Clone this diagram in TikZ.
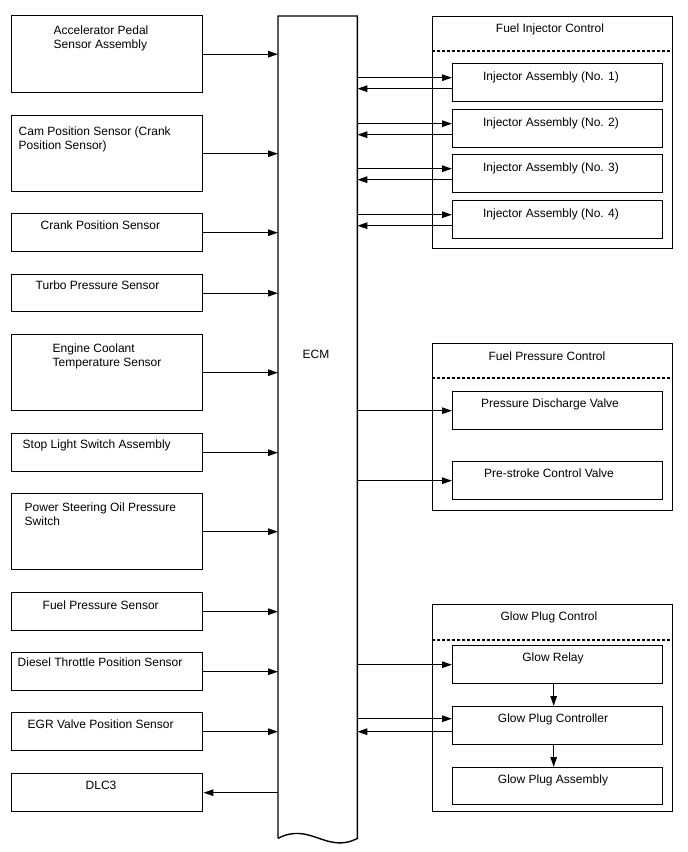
\documentclass[tikz,border=0pt]{standalone}
\usepackage{fontspec}
\setmainfont{Liberation Sans}
\usetikzlibrary{arrows.meta,positioning,calc}

\begin{document}
\begin{tikzpicture}[x=1pt, y=-1pt, line width=1.4pt,
    blk/.style={draw, rectangle, inner sep=0pt, anchor=north west, minimum width=191pt},
    grp/.style={draw, rectangle, inner sep=0pt, anchor=north west, minimum width=240pt},
    part/.style={draw, rectangle, inner sep=0pt, anchor=north west, minimum width=210pt, minimum height=38pt},
    lbl/.style={inner sep=0pt, anchor=north west, align=left, font=\fontsize{12}{14}\selectfont},
    clbl/.style={inner sep=0pt, anchor=north, align=center, font=\fontsize{12}{14}\selectfont},
    sig/.style={-{Triangle[length=10pt,width=6.5pt]}},
    sep/.style={dash pattern=on 3pt off 2pt, line width=1.1pt}]
      \useasboundingbox (0,0) rectangle (688,852);
      \node[inner sep=0pt, anchor=north west, minimum width=78pt, minimum height=821pt] (ecm) at (278,16) {};
      \draw (ecm.south west) -- (ecm.north west) -- (ecm.north east) -- (ecm.south east)
        .. controls +(-31,16) and +(32,-17) .. (ecm.south west);
      \node[clbl, anchor=center] (ecmtxt) at (316,354) {ECM};
      \node[blk, minimum height=77pt] (apps) at (11,15) {};
      \node[lbl] (appstxt) at (53,25) {Accelerator Pedal\\Sensor Assembly};
      \node[blk, minimum height=76pt] (cmp) at (11,115) {};
      \node[lbl] (cmptxt) at (18,126) {Cam Position Sensor (Crank\\Position Sensor)};
      \node[blk, minimum height=38pt] (ckp) at (11,213) {};
      \node[lbl] (ckptxt) at (40,220) {Crank Position Sensor};
      \node[blk, minimum height=37pt] (tbp) at (11,274) {};
      \node[lbl] (tbptxt) at (35,280) {Turbo Pressure Sensor};
      \node[blk, minimum height=76pt] (ect) at (11,334) {};
      \node[lbl] (ecttxt) at (52,343) {Engine Coolant\\Temperature Sensor};
      \node[blk, minimum height=38pt] (stp) at (11,433) {};
      \node[lbl] (stptxt) at (22,439) {Stop Light Switch Assembly};
      \node[blk, minimum height=76pt] (psw) at (11,493) {};
      \node[lbl] (pswtxt) at (24,502) {Power Steering Oil Pressure\\Switch};
      \node[blk, minimum height=38pt] (fps) at (11,592) {};
      \node[lbl] (fpstxt) at (42,600) {Fuel Pressure Sensor};
      \node[blk, minimum height=38pt] (dtp) at (11,652) {};
      \node[lbl] (dtptxt) at (17,657) {Diesel Throttle Position Sensor};
      \node[blk, minimum height=38pt] (egr) at (11,712) {};
      \node[lbl] (egrtxt) at (27,719) {EGR Valve Position Sensor};
      \node[blk, minimum height=38pt] (dlc) at (11,773) {};
      \node[lbl] (dlctxt) at (85,780) {DLC3};
      \draw[sig] (apps.east) -- (apps.east -| ecm.west);
      \draw[sig] (cmp.east) -- (cmp.east -| ecm.west);
      \draw[sig] (ckp.east) -- (ckp.east -| ecm.west);
      \draw[sig] (tbp.east) -- (tbp.east -| ecm.west);
      \draw[sig] (ect.east) -- (ect.east -| ecm.west);
      \draw[sig] (stp.east) -- (stp.east -| ecm.west);
      \draw[sig] (psw.east) -- (psw.east -| ecm.west);
      \draw[sig] (fps.east) -- (fps.east -| ecm.west);
      \draw[sig] (dtp.east) -- (dtp.east -| ecm.west);
      \draw[sig] (egr.east) -- (egr.east -| ecm.west);
      \draw[sig] (dlc.east -| ecm.west) -- (dlc.east);
      \node[grp, minimum height=232pt] (fic) at (432,16) {};
      \node[clbl] (fictxt) at (550,23) {Fuel Injector Control};
      \draw[sep] ([yshift=-35pt]fic.north west) -- ([yshift=-35pt]fic.north east);
      \node[part] (inj1) at (452,63) {};
      \node[clbl] (inj1txt) at (551,71) {Injector Assembly (No. 1)};
      \node[part] (inj2) at (452,109) {};
      \node[clbl] (inj2txt) at (551,117) {Injector Assembly (No. 2)};
      \node[part] (inj3) at (452,154) {};
      \node[clbl] (inj3txt) at (551,162) {Injector Assembly (No. 3)};
      \node[part] (inj4) at (452,200) {};
      \node[clbl] (inj4txt) at (551,208) {Injector Assembly (No. 4)};
      \draw[sig] ([yshift=5pt]inj1.west -| ecm.east) -- ([yshift=5pt]inj1.west);
      \draw[sig] ([yshift=-6pt]inj1.west) -- ([yshift=-6pt]inj1.west -| ecm.east);
      \draw[sig] ([yshift=5pt]inj2.west -| ecm.east) -- ([yshift=5pt]inj2.west);
      \draw[sig] ([yshift=-6pt]inj2.west) -- ([yshift=-6pt]inj2.west -| ecm.east);
      \draw[sig] ([yshift=5pt]inj3.west -| ecm.east) -- ([yshift=5pt]inj3.west);
      \draw[sig] ([yshift=-6pt]inj3.west) -- ([yshift=-6pt]inj3.west -| ecm.east);
      \draw[sig] ([yshift=5pt]inj4.west -| ecm.east) -- ([yshift=5pt]inj4.west);
      \draw[sig] ([yshift=-6pt]inj4.west) -- ([yshift=-6pt]inj4.west -| ecm.east);
      \node[grp, minimum height=167pt] (fpc) at (432,343) {};
      \node[clbl] (fpctxt) at (547,351) {Fuel Pressure Control};
      \draw[sep] ([yshift=-35pt]fpc.north west) -- ([yshift=-35pt]fpc.north east);
      \node[part] (pdv) at (452,391) {};
      \node[clbl] (pdvtxt) at (550,398) {Pressure Discharge Valve};
      \node[part] (pcv) at (452,461) {};
      \node[clbl] (pcvtxt) at (549,468) {Pre-stroke Control Valve};
      \draw[sig] (pdv.west -| ecm.east) -- (pdv.west);
      \draw[sig] (pcv.west -| ecm.east) -- (pcv.west);
      \node[grp, minimum height=207pt] (gpc) at (432,604) {};
      \node[clbl] (gpctxt) at (549,611) {Glow Plug Control};
      \draw[sep] ([yshift=-36pt]gpc.north west) -- ([yshift=-36pt]gpc.north east);
      \node[part] (grl) at (452,645) {};
      \node[clbl] (grltxt) at (553,652) {Glow Relay};
      \node[part] (gcu) at (452,706) {};
      \node[clbl] (gcutxt) at (553,713) {Glow Plug Controller};
      \node[part, minimum height=37pt] (gpa) at (452,767) {};
      \node[clbl] (gpatxt) at (553,774) {Glow Plug Assembly};
      \draw[sig] (grl.west -| ecm.east) -- (grl.west);
      \draw[sig] ([yshift=7pt]gcu.west -| ecm.east) -- ([yshift=7pt]gcu.west);
      \draw[sig] ([yshift=-6pt]gcu.west) -- ([yshift=-6pt]gcu.west -| ecm.east);
      \draw[sig] ([xshift=-4pt]grl.south) -- ([xshift=-4pt]gcu.north);
      \draw[sig] ([xshift=-4pt]gcu.south) -- ([xshift=-4pt]gpa.north);
    \end{tikzpicture}
\end{document}
